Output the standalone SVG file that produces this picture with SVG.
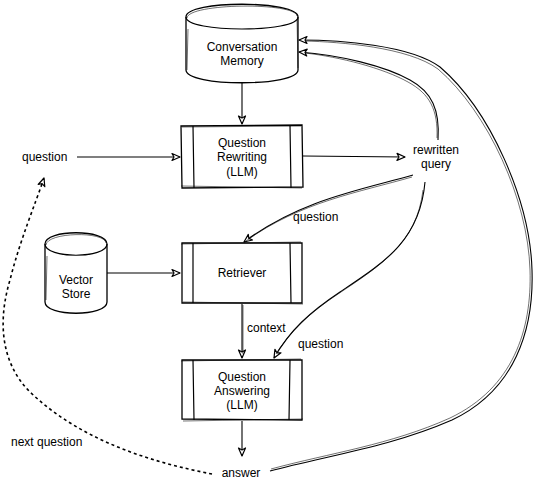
<svg xmlns="http://www.w3.org/2000/svg" width="534" height="489" viewBox="0 0 534 489">
<style>
  .t{font-family:"Liberation Sans",Arial,Helvetica,sans-serif;font-size:12px;fill:#000;text-anchor:middle}
  .tl{font-family:"Liberation Sans",Arial,Helvetica,sans-serif;font-size:12px;fill:#000}
  .sh{fill:#fff;stroke:#000;stroke-width:1.3}
  .ln{fill:none;stroke:#000;stroke-width:1.2}
  .c{fill:none;stroke:#000;stroke-width:1.1}
  .c2{fill:none;stroke:#000;stroke-width:0.7;opacity:0.8}
  .d{fill:none;stroke:#000;stroke-width:1.6;stroke-dasharray:3 3}
</style>
<defs>
  <marker id="ah" markerWidth="10" markerHeight="10" refX="9" refY="5" orient="auto" markerUnits="userSpaceOnUse">
    <path d="M1,1.5 L9,5 L1,8.5 L3,5 Z" fill="#fff" stroke="#000" stroke-width="1.2" stroke-linejoin="round"/>
  </marker>
</defs>

<g id="conversation-memory">
  <path class="sh" d="M186,17 C186,0 298,0 298,17 L298,70 C298,87 186,87 186,70 Z"/>
  <path class="ln" d="M186,17 C186,33 298,33 298,17"/>
  <path class="c2" d="M187,18 C188,3 296,2 297,16 M188,29 L187,70 M297,19 L298,68"/>
  <text class="t" x="242" y="51">Conversation</text>
  <text class="t" x="242" y="65">Memory</text>
</g>

<g id="question-rewriting">
  <path class="sh" d="M181,126 L302,125 L303,187 L182,188 Z"/>
  <path class="ln" d="M193,126 L194,188 M290,125 L291,188"/>
  <path class="c2" d="M182,127 L301,126 M181,186 L302,188"/>
  <text class="t" x="242" y="147">Question</text>
  <text class="t" x="242" y="161">Rewriting</text>
  <text class="t" x="242" y="176">(LLM)</text>
</g>

<g id="vector-store">
  <path class="sh" d="M45,244 C45,229 107,229 107,244 L107,302 C107,317 45,317 45,302 Z"/>
  <path class="ln" d="M45,244 C45,259 107,259 107,244"/>
  <path class="c2" d="M46,245 C47,232 105,231 106,243 M47,256 L46,300"/>
  <text class="t" x="76" y="284">Vector</text>
  <text class="t" x="76" y="298">Store</text>
</g>

<g id="retriever">
  <path class="sh" d="M182,243 L302,243 L302,303 L182,303 Z"/>
  <path class="ln" d="M193,243 L193,303 M290,243 L291,303"/>
  <path class="c2" d="M181,244 L301,242 M183,302 L303,304"/>
  <text class="t" x="242" y="277">Retriever</text>
</g>

<g id="question-answering">
  <path class="sh" d="M182,360 L302,360 L302,420 L182,419 Z"/>
  <path class="ln" d="M193,360 L194,420 M290,360 L289,420"/>
  <path class="c2" d="M181,361 L301,359 M183,421 L303,419"/>
  <text class="t" x="242" y="381">Question</text>
  <text class="t" x="242" y="395">Answering</text>
  <text class="t" x="242" y="409">(LLM)</text>
</g>

<g id="labels">
  <text class="tl" x="22" y="161">question</text>
  <text class="t" x="436" y="154">rewritten</text>
  <text class="t" x="436" y="168">query</text>
  <text class="t" x="241" y="477">answer</text>
  <text class="tl" x="11" y="446">next question</text>
</g>

<g id="connectors">
  <path class="c" d="M242,82 L242,124" marker-end="url(#ah)"/>
  <path class="c" d="M77,157 L180,157" marker-end="url(#ah)"/>
  <path class="c" d="M303,156 L405,157" marker-end="url(#ah)"/>
  <path class="c" d="M413,175 C360,190 300,200 244,242" marker-end="url(#ah)"/>
  <path class="c2" d="M412,177 C360,192 300,202 246,241"/>
  <path class="c" d="M438,140 C440,110 432,92 410,80 C385,66 340,55 299,52" marker-end="url(#ah)"/>
  <path class="c2" d="M437,138 C438,110 430,94 408,82 C383,68 340,57 305,53"/>
  <path class="c" d="M425,182 C420,240 385,262 340,292 C310,312 290,330 274,358" marker-end="url(#ah)"/>
  <path class="c2" d="M423,190 C417,242 383,264 338,294 C308,314 290,332 276,354"/>
  <path class="c" d="M107,273 L180,273" marker-end="url(#ah)"/>
  <path class="c" d="M242,304 L242,358" marker-end="url(#ah)"/>
  <path class="c2" d="M243,305 L243,354"/>
  <path class="c" d="M242,421 L242,456" marker-end="url(#ah)"/>
  <path class="c" d="M270,471 C330,455 390,447 452,420 C515,390 534,330 532,270 C530,200 490,110 440,67 C410,45 340,40 299,40" marker-end="url(#ah)"/>
  <path class="c2" d="M271,469 C330,453 390,445 450,418 C513,388 532,330 530,270 C528,200 488,112 438,69 C408,47 340,42 305,41"/>
  <path class="d" d="M212,474 C150,462 80,440 30,392 C0,362 -2,320 10,280 C20,240 35,205 44,178" marker-end="url(#ah)"/>
  <text class="tl" x="293" y="221">question</text>
  <text class="tl" x="247" y="332">context</text>
  <text class="tl" x="298" y="348">question</text>
</g>
</svg>
